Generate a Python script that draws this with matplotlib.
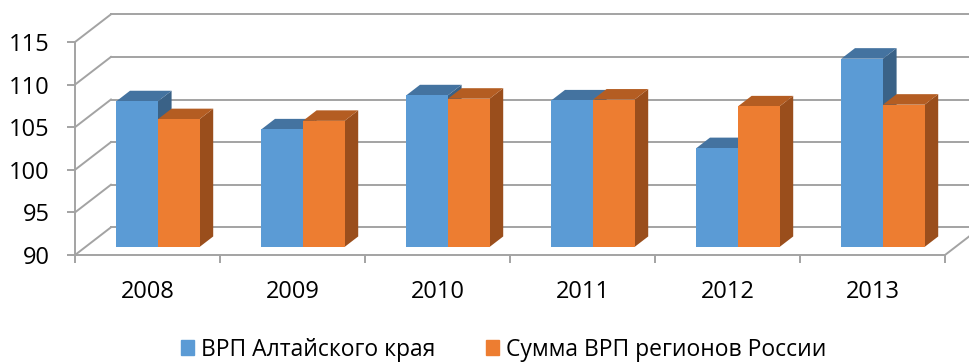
import matplotlib
matplotlib.use('Agg')
import matplotlib.pyplot as plt
import matplotlib.transforms as mtransforms
from matplotlib.patches import Polygon, Patch
import numpy as np

years = ['2008', '2009', '2010', '2011', '2012', '2013']
altai_grp = [107.1, 103.8, 107.8, 107.2, 101.6, 112.1]
russia_grp = [105.0, 104.8, 107.4, 107.3, 106.5, 106.7]
series_names = ['ВРП Алтайского края', 'Сумма ВРП регионов России']
y_ticks = [90, 95, 100, 105, 110, 115]

# front / top / side shades of each series
blue = ('#5b9bd5', '#4473a0', '#3a6287')
orange = ('#ed7d31', '#b45d22', '#9a4e1c')
grid_c = '#a3a3a3'

plt.rcParams['font.family'] = ['Open Sans', 'DejaVu Sans']

fig = plt.figure(figsize=(9.7, 3.63), dpi=100)
ax = fig.add_axes([75 / 970, 108 / 363, 870 / 970, 213 / 363])
ax.set_xlim(-0.5, 5.5)
ax.set_ylim(90, 115)

# oblique depth of the box (in data units) and where the bars sit in it
wall_dx, wall_dy = 0.248, 3.25
bar_pos, bar_thick = 0.29, 0.38
bar_w = 0.287
lo = y_ticks[0]

# back wall, left wall and floor edges
for v in y_ticks:
    ax.plot([-0.5 + wall_dx, 5.5 + wall_dx], [v + wall_dy] * 2, color=grid_c,
            lw=1.4, clip_on=False, zorder=1)
    ax.plot([-0.5, -0.5 + wall_dx], [v, v + wall_dy], color=grid_c,
            lw=1.4, clip_on=False, zorder=1)
ax.plot([5.5, 5.5 + wall_dx], [lo, lo + wall_dy], color=grid_c, lw=1.4,
        clip_on=False, zorder=1)

x = np.arange(len(years))
shift = mtransforms.Affine2D().translate(bar_pos * wall_dx,
                                         bar_pos * wall_dy) + ax.transData
ddx, ddy = bar_thick * wall_dx, bar_thick * wall_dy

for j, (vals, shades) in enumerate([(altai_grp, blue), (russia_grp, orange)]):
    lefts = x - bar_w + j * bar_w
    for left, v in zip(lefts, vals):
        right = left + bar_w
        ax.add_patch(Polygon([(right, lo), (right, v), (right + ddx, v + ddy),
                              (right + ddx, lo + ddy)], closed=True,
                             fc=shades[2], ec='none', transform=shift,
                             clip_on=False, zorder=2 + j))
        ax.add_patch(Polygon([(left, v), (right, v), (right + ddx, v + ddy),
                              (left + ddx, v + ddy)], closed=True,
                             fc=shades[1], ec='none', transform=shift,
                             clip_on=False, zorder=2 + j))
    ax.bar(lefts, np.array(vals) - lo, bottom=lo, width=bar_w, align='edge',
           color=shades[0], transform=shift, clip_on=False, zorder=2 + j)

for side in ['top', 'right']:
    ax.spines[side].set_visible(False)
for side in ['left', 'bottom']:
    ax.spines[side].set_color(grid_c)
    ax.spines[side].set_linewidth(1.4)

ax.set_yticks(y_ticks)
ax.set_xticks(x, years)
ax.set_xticks(np.arange(-0.5, len(years)), minor=True)
ax.tick_params(axis='y', length=5.8, width=1.4, color=grid_c, pad=12.5,
               labelsize=17)
ax.tick_params(axis='x', which='major', length=0, pad=18, labelsize=17)
ax.tick_params(axis='x', which='minor', length=5.8, width=1.4, color=grid_c)

handles = [Patch(color=blue[0]), Patch(color=orange[0])]
fig.legend(handles, series_names, loc='center', ncol=2,
           bbox_to_anchor=(0.519, 13.5 / 363), frameon=False, fontsize=16.5,
           handlelength=0.58, handleheight=0.58, handletextpad=0.3,
           columnspacing=2.2, borderpad=0)

fig.savefig('out.png', dpi=100)
